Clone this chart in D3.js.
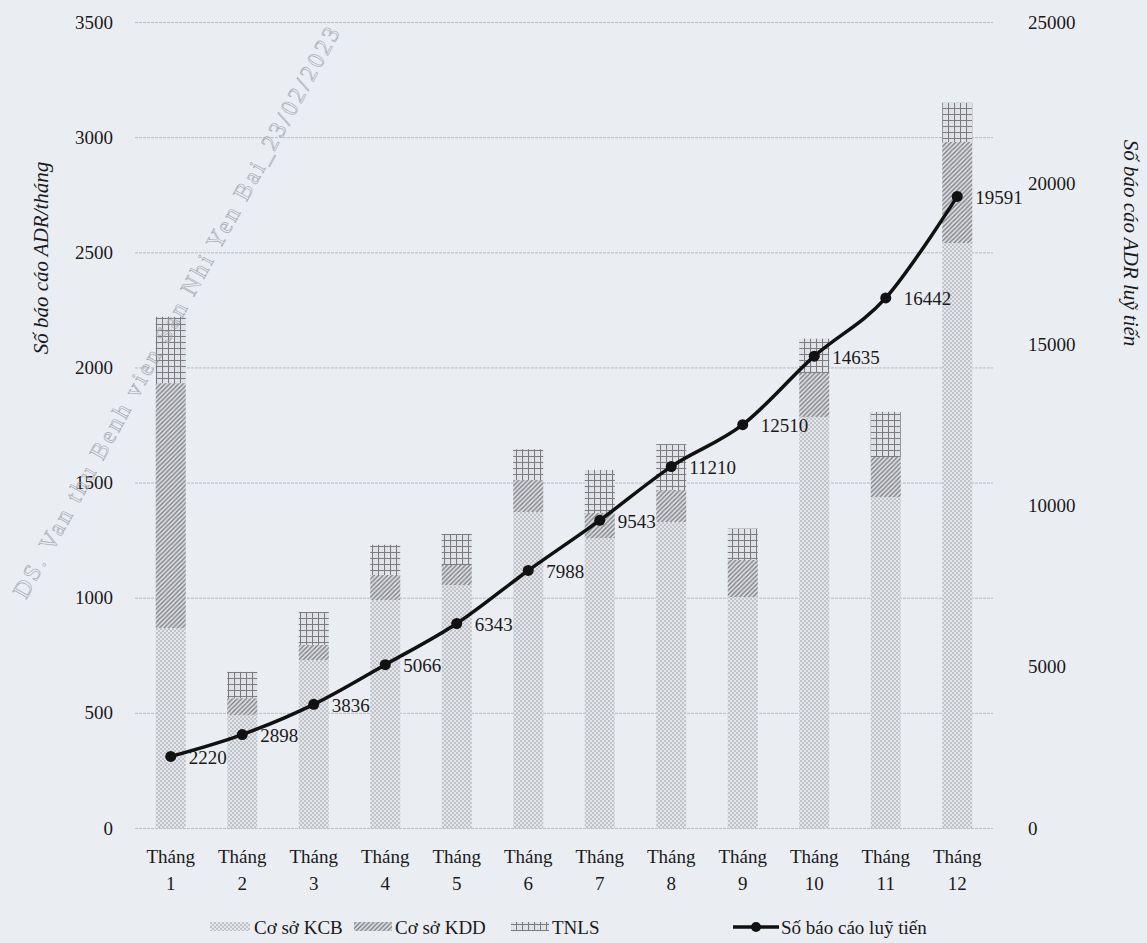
<!DOCTYPE html>
<html>
<head>
<meta charset="utf-8">
<script src="https://cdn.jsdelivr.net/npm/d3@7"></script>
<style>
html,body{margin:0;padding:0;background:#eaedf2;}
svg{display:block;}
text{font-family:"Liberation Serif","Times New Roman",serif;fill:#1a1a1a;}
</style>
</head>
<body>
<svg id="chart" width="1147" height="943"></svg>
<script>
// ---- data ----
const monthPrefix = "Tháng";
const months = ["1","2","3","4","5","6","7","8","9","10","11","12"];
const kcb  = [868, 491, 729, 990, 1055, 1372, 1259, 1329, 1003, 1785, 1437, 2540];
const kdd  = [1064, 73, 66, 109, 87, 139, 109, 139, 161, 191, 174, 439];
const tnls = [288, 114, 143, 131, 135, 134, 187, 199, 136, 149, 196, 170];
const cumulative = [2220, 2898, 3836, 5066, 6343, 7988, 9543, 11210, 12510, 14635, 16442, 19591];
const leftTicks = [0, 500, 1000, 1500, 2000, 2500, 3000, 3500];
const rightTicks = [0, 5000, 10000, 15000, 20000, 25000];
const seriesNames = ["Cơ sở KCB", "Cơ sở KDD", "TNLS", "Số báo cáo luỹ tiến"];
const leftTitle = "Số báo cáo ADR/tháng";
const rightTitle = "Số báo cáo ADR luỹ tiến";
const watermark = "DS. Van thu Benh vien San Nhi Yen Bai_23/02/2023";

// ---- layout ----
const W = 1147, H = 943;
const plot = {left: 135, right: 993, top: 22, bottom: 828};
const svg = d3.select("#chart");

svg.append("rect").attr("width", W).attr("height", H).attr("fill", "#eaedf2");

// patterns
const defs = svg.append("defs");
const pKCB = defs.append("pattern").attr("id", "pKCB").attr("patternUnits", "userSpaceOnUse")
  .attr("width", 4).attr("height", 4);
pKCB.append("rect").attr("width", 4).attr("height", 4).attr("fill", "#e4e6eb");
pKCB.append("circle").attr("cx", 1).attr("cy", 1).attr("r", 0.8).attr("fill", "#93969c");
pKCB.append("circle").attr("cx", 3).attr("cy", 3).attr("r", 0.8).attr("fill", "#93969c");

const pKDD = defs.append("pattern").attr("id", "pKDD").attr("patternUnits", "userSpaceOnUse")
  .attr("width", 4.5).attr("height", 4.5);
pKDD.append("rect").attr("width", 4.5).attr("height", 4.5).attr("fill", "#dcdee2");
pKDD.append("path").attr("d", "M-1,1 L1,-1 M0,4.5 L4.5,0 M3.5,5.5 L5.5,3.5")
  .attr("stroke", "#7a7c81").attr("stroke-width", 1.3);

const pTNLS = defs.append("pattern").attr("id", "pTNLS").attr("patternUnits", "userSpaceOnUse")
  .attr("width", 6).attr("height", 6);
pTNLS.append("rect").attr("width", 6).attr("height", 6).attr("fill", "#e0e2e6");
pTNLS.append("path").attr("d", "M0,0.5 H6 M0.5,0 V6")
  .attr("stroke", "#7a7c81").attr("stroke-width", 1.1);

// scales
const x = d3.scaleBand().domain(months).range([plot.left, plot.right])
  .paddingInner(0.58).paddingOuter(0.29);
const yL = d3.scaleLinear().domain([0, 3500]).range([plot.bottom, plot.top]);
const yR = d3.scaleLinear().domain([0, 25000]).range([plot.bottom, plot.top]);

// gridlines
svg.append("g").selectAll("line").data(leftTicks).join("line")
  .attr("x1", plot.left).attr("x2", plot.right)
  .attr("y1", d => yL(d) + 0.5).attr("y2", d => yL(d) + 0.5)
  .attr("stroke", "#b9bdc4").attr("stroke-width", 1).attr("stroke-dasharray", "3,1");

// left axis
const axL = d3.axisLeft(yL).tickValues(leftTicks).tickSize(0).tickPadding(0).tickFormat(d3.format("d"));
const gL = svg.append("g").attr("transform", "translate(113,0)").call(axL).attr("font-family", null);
gL.select(".domain").remove();
gL.selectAll("text").style("font-size", "19px").style("fill", "#1a1a1a");

// right axis
const axR = d3.axisRight(yR).tickValues(rightTicks).tickSize(0).tickPadding(0).tickFormat(d3.format("d"));
const gR = svg.append("g").attr("transform", "translate(1028,0)").call(axR).attr("font-family", null);
gR.select(".domain").remove();
gR.selectAll("text").style("font-size", "19px").style("fill", "#1a1a1a");

// stacked bars
const rows = months.map((m, i) => ({m, kcb: kcb[i], kdd: kdd[i], tnls: tnls[i]}));
const stack = d3.stack().keys(["kcb", "kdd", "tnls"])(rows);
const fills = {kcb: "url(#pKCB)", kdd: "url(#pKDD)", tnls: "url(#pTNLS)"};
svg.append("g").selectAll("g").data(stack).join("g")
  .attr("fill", d => fills[d.key])
  .selectAll("rect").data(d => d).join("rect")
  .attr("x", d => x(d.data.m))
  .attr("width", x.bandwidth())
  .attr("y", d => yL(d[1]))
  .attr("height", d => yL(d[0]) - yL(d[1]));

// watermark (stamped over the chart)
svg.append("text")
  .attr("transform", "translate(26,600) rotate(-61)")
  .style("font-size", "24px").style("letter-spacing", "3px").style("fill", "none")
  .style("stroke", "#a3a7ae").style("stroke-width", 0.6)
  .text(watermark);

// cumulative line
const cx = i => x(months[i]) + x.bandwidth() / 2;
const line = d3.line().x((d, i) => cx(i)).y(d => yR(d)).curve(d3.curveCardinal.tension(0));
svg.append("path").datum(cumulative).attr("d", line)
  .attr("fill", "none").attr("stroke", "#111").attr("stroke-width", 3.5);
svg.append("g").selectAll("circle").data(cumulative).join("circle")
  .attr("cx", (d, i) => cx(i)).attr("cy", d => yR(d)).attr("r", 5.5).attr("fill", "#111");
svg.append("g").selectAll("text").data(cumulative).join("text")
  .attr("x", (d, i) => cx(i) + 18).attr("y", d => yR(d) + 3)
  .attr("dominant-baseline", "middle")
  .style("font-size", "19px")
  .text(d => d);

// x labels
const xl = svg.append("g").selectAll("text").data(months).join("text")
  .attr("text-anchor", "middle")
  .attr("x", d => x(d) + x.bandwidth() / 2)
  .style("font-size", "19px");
xl.append("tspan").attr("x", d => x(d) + x.bandwidth() / 2).attr("y", 863).text(monthPrefix);
xl.append("tspan").attr("x", d => x(d) + x.bandwidth() / 2).attr("y", 890).text(d => d);

// axis titles
svg.append("text").attr("transform", "translate(48,258) rotate(-90)")
  .attr("text-anchor", "middle").style("font-size", "21px").style("font-style", "italic")
  .text(leftTitle);
svg.append("text").attr("transform", "translate(1124,243) rotate(90)")
  .attr("text-anchor", "middle").style("font-size", "21px").style("font-style", "italic")
  .text(rightTitle);

// legend
const ly = 927;
const lg = svg.append("g");
const sw = [
  {x: 210, w: 40, fill: "url(#pKCB)", tx: 254, name: seriesNames[0]},
  {x: 354, w: 38, fill: "url(#pKDD)", tx: 395, name: seriesNames[1]},
  {x: 511, w: 38, fill: "url(#pTNLS)", tx: 552, name: seriesNames[2]}
];
lg.selectAll("rect").data(sw).join("rect")
  .attr("x", d => d.x).attr("y", ly - 5).attr("width", d => d.w).attr("height", 9)
  .attr("fill", d => d.fill);
lg.selectAll("text.t").data(sw).join("text").attr("class", "t")
  .attr("x", d => d.tx).attr("y", ly + 7).style("font-size", "19px").text(d => d.name);
lg.append("line").attr("x1", 733).attr("x2", 779).attr("y1", ly).attr("y2", ly)
  .attr("stroke", "#111").attr("stroke-width", 3.5);
lg.append("circle").attr("cx", 756).attr("cy", ly).attr("r", 5).attr("fill", "#111");
lg.append("text").attr("x", 781).attr("y", ly + 7).style("font-size", "19px").text(seriesNames[3]);
</script>
</body>
</html>
